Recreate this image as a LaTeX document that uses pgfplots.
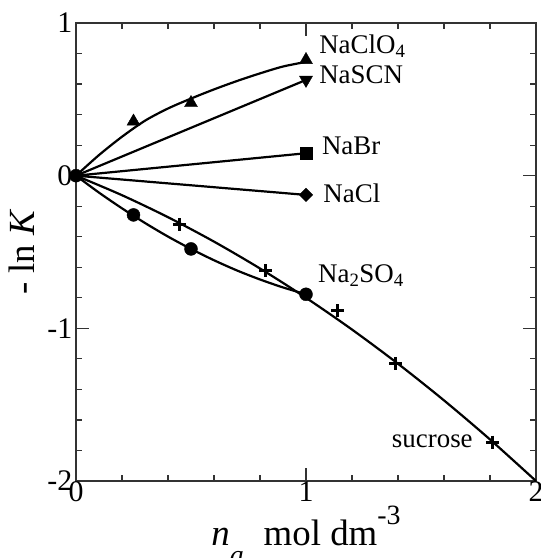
\documentclass[border=0pt]{standalone}
\usepackage{pgfplots}
\pgfplotsset{compat=1.18}
\usepackage{fontspec}
\setmainfont{Liberation Serif}
\newcommand{\lab}{\fontsize{27}{28}\selectfont}
\begin{document}
\begin{tikzpicture}
\begin{axis}[
  scale only axis, width=460bp, height=458bp,
  xmin=0, xmax=2, ymin=-2, ymax=1,
  xtick={0,1,2}, ytick={-2,-1,0,1},
  minor x tick num=4, minor y tick num=4,
  tick align=inside, xtick pos=both, ytick pos=both,
  major tick length=13bp, minor tick length=6.5bp,
  axis line style={line width=1.6bp, black!80},
  every tick/.style={line width=1.2bp, black!80},
  tick label style={font=\fontsize{30}{32}\selectfont, inner sep=1.5bp},
  /pgf/number format/assume math mode=true,
  xticklabel style={yshift=1bp},
  yticklabel style={xshift=-2bp},
  ylabel={\fontsize{37}{40}\selectfont - ln \textit{K}},
  ylabel style={at={(axis description cs:-0.118,0.5)}, anchor=center},
  xlabel={\fontsize{37}{40}\selectfont \textit{n}\raisebox{-19bp}{\fontsize{28}{28}\selectfont\textit{a}}\hspace{20bp}mol dm\raisebox{21bp}{\fontsize{28}{28}\selectfont -3}},
  xlabel style={at={(axis description cs:0.5,0)}, anchor=base, yshift=-64bp},
  clip=false,
]
% fitted curves
\addplot[line width=2.2bp, black, smooth] coordinates {
 (0,0) (0.1,0.135) (0.2,0.255) (0.3,0.36) (0.4,0.44) (0.5,0.505) (0.6,0.565) (0.7,0.62) (0.8,0.67) (0.9,0.715) (1.0,0.745)};
\addplot[line width=2.2bp, black] coordinates {(0,0) (1,0.627)};
\addplot[line width=2.2bp, black] coordinates {(0,0) (1,0.147)};
\addplot[line width=2.2bp, black] coordinates {(0,0) (1,-0.126)};
\addplot[line width=2.2bp, black, smooth] coordinates {
 (0,0) (0.1,-0.111) (0.2,-0.214) (0.3,-0.310) (0.4,-0.399) (0.5,-0.480) (0.6,-0.554) (0.7,-0.621) (0.8,-0.680) (0.9,-0.732) (1.0,-0.777)};
\addplot[line width=2.2bp, black, smooth] coordinates {
 (0,0) (0.2,-0.128) (0.4,-0.272) (0.6,-0.432) (0.8,-0.608) (1.0,-0.80) (1.2,-1.008) (1.4,-1.232) (1.6,-1.472) (1.8,-1.728) (2.0,-2.0)};
% data markers
\addplot[only marks, mark=triangle*, mark size=7.5bp, black] coordinates {(0.25,0.355) (0.5,0.476) (1.0,0.758)};
\addplot[only marks, mark=triangle*, mark size=7.5bp, black, mark options={rotate=180}] coordinates {(1.0,0.627)};
\addplot[only marks, mark=square*, mark size=5.7bp, black] coordinates {(1.0,0.147)};
\addplot[only marks, mark=square*, mark size=4.8bp, black, mark options={rotate=45}] coordinates {(1.0,-0.126)};
\addplot[only marks, mark=*, mark size=6.5bp, black] coordinates {(0,0) (0.25,-0.257) (0.5,-0.48) (1.0,-0.777)};
\addplot[only marks, mark=+, mark size=6.5bp, black, mark options={line width=3bp}] coordinates {(0.449,-0.323) (0.826,-0.624) (1.138,-0.886) (1.391,-1.229) (1.812,-1.746)};
% labels
\node[anchor=base west, inner sep=0pt] at (axis cs:1.057,0.797) {\lab NaClO\textsubscript{4}};
\node[anchor=base west, inner sep=0pt] at (axis cs:1.057,0.605) {\lab NaSCN};
\node[anchor=base west, inner sep=0pt] at (axis cs:1.069,0.136) {\lab NaBr};
\node[anchor=base west, inner sep=0pt] at (axis cs:1.075,-0.179) {\lab NaCl};
\node[anchor=base west, inner sep=0pt] at (axis cs:1.052,-0.703) {\lab Na\textsubscript{2}SO\textsubscript{4}};
\node[anchor=base west, inner sep=0pt] at (axis cs:1.373,-1.781) {\lab sucrose};
\end{axis}
\pgfresetboundingbox
\path (-76bp,-77bp) rectangle (465bp,481bp);
\end{tikzpicture}
\end{document}
